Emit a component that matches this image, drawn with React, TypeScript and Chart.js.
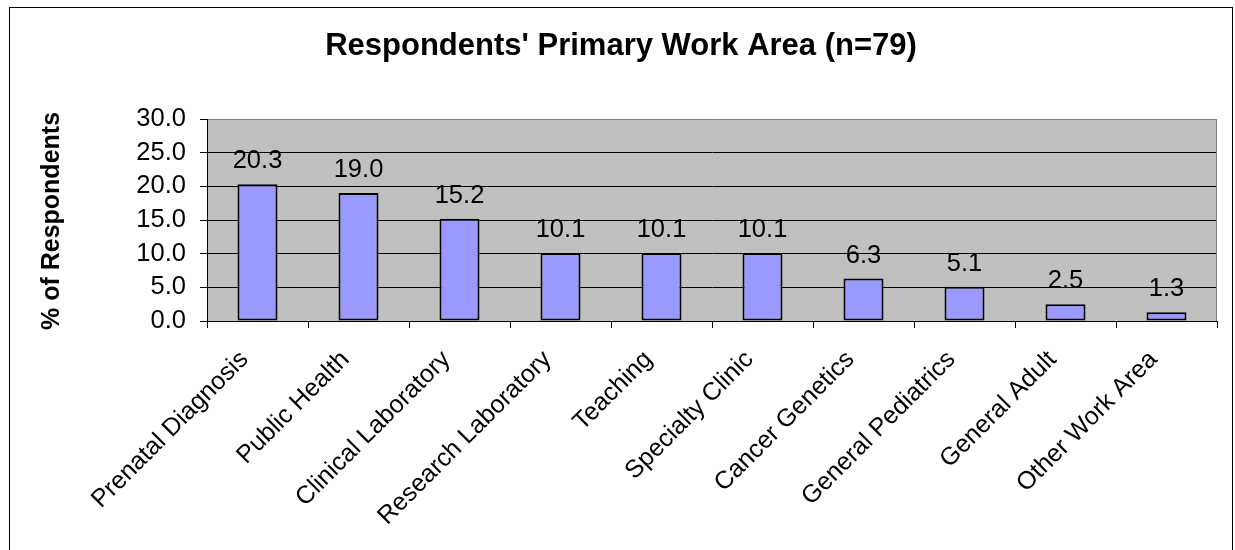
import React, { useEffect, useRef } from "react";
import { Chart, registerables } from "chart.js";

Chart.register(...registerables);

const categories = [
  "Prenatal Diagnosis",
  "Public Health",
  "Clinical Laboratory",
  "Research Laboratory",
  "Teaching",
  "Specialty Clinic",
  "Cancer Genetics",
  "General Pediatrics",
  "General Adult",
  "Other Work Area",
];
const percentages = [20.3, 19.0, 15.2, 10.1, 10.1, 10.1, 6.3, 5.1, 2.5, 1.3];
const yMin = 0;
const yMax = 30;
const yStep = 5;
const chartTitle = "Respondents' Primary Work Area (n=79)";
const yAxisTitle = "% of Respondents";

const FONT = "'Liberation Sans', Arial, Helvetica, sans-serif";
const CANVAS_W = 1222;
const CANVAS_H = 542;

const decorPlugin = {
  id: "decor",
  beforeDraw(chart: any) {
    const { ctx, chartArea } = chart;
    ctx.save();
    ctx.fillStyle = "#C0C0C0";
    ctx.fillRect(chartArea.left, chartArea.top, chartArea.right - chartArea.left, chartArea.bottom - chartArea.top);
    ctx.restore();
  },
  afterDatasetsDraw(chart: any) {
    const { ctx, chartArea } = chart;
    ctx.save();
    // right plot border (gray)
    ctx.strokeStyle = "#808080";
    ctx.lineWidth = 1;
    ctx.beginPath();
    ctx.moveTo(chartArea.right - 0.5, chartArea.top);
    ctx.lineTo(chartArea.right - 0.5, chartArea.bottom);
    ctx.stroke();
    // data labels
    const meta = chart.getDatasetMeta(0);
    const data = chart.data.datasets[0].data as number[];
    ctx.fillStyle = "#000";
    ctx.font = `25.5px ${FONT}`;
    ctx.textAlign = "center";
    ctx.textBaseline = "alphabetic";
    meta.data.forEach((bar: any, i: number) => {
      ctx.fillText(Number(data[i]).toFixed(1), bar.x, bar.y - 16);
    });
    ctx.restore();
  },
  afterDraw(chart: any) {
    const { ctx, chartArea } = chart;
    ctx.save();
    ctx.fillStyle = "#000";
    ctx.font = `bold 31px ${FONT}`;
    ctx.textAlign = "center";
    ctx.textBaseline = "alphabetic";
    ctx.fillText(chartTitle, chart.width / 2, 47);
    ctx.translate(42, (chartArea.top + chartArea.bottom) / 2 + 1);
    ctx.rotate(-Math.PI / 2);
    ctx.font = `bold 25px ${FONT}`;
    ctx.textBaseline = "middle";
    ctx.fillText(yAxisTitle, 0, 0);
    ctx.restore();
  },
};

export default function App() {
  const canvasRef = useRef<HTMLCanvasElement | null>(null);

  useEffect(() => {
    const canvas = canvasRef.current;
    if (!canvas) return;
    const chart = new Chart(canvas, {
      type: "bar",
      data: {
        labels: categories,
        datasets: [
          {
            data: percentages,
            backgroundColor: "#9999FF",
            borderColor: "#000000",
            borderWidth: 2,
            borderSkipped: false,
            barPercentage: 0.396,
            categoryPercentage: 1,
          },
        ],
      },
      options: {
        responsive: false,
        animation: false,
        devicePixelRatio: 1,
        layout: { padding: { top: 111, right: 15, left: 0, bottom: 0 } },
        plugins: {
          legend: { display: false },
          tooltip: { enabled: false },
          title: { display: false },
        },
        scales: {
          x: {
            offset: true,
            grid: {
              display: true,
              offset: true,
              drawOnChartArea: false,
              drawTicks: true,
              tickLength: 7,
              color: "#000000",
              lineWidth: 1,
            },
            border: { display: true, color: "#000000", width: 1 },
            ticks: {
              autoSkip: false,
              maxRotation: 45,
              minRotation: 45,
              padding: 17,
              labelOffset: -13,
              color: "#000000",
              font: { family: FONT, size: 25 },
            },
            afterFit(scale: any) {
              scale.height = 229;
            },
          },
          y: {
            min: yMin,
            max: yMax,
            grid: {
              color: (c: any) => (c.tick && c.tick.value === yMax ? "#808080" : "#000000"),
              tickColor: "#000000",
              tickLength: 7,
              lineWidth: 1,
            },
            border: { display: true, color: "#000000", width: 1 },
            ticks: {
              stepSize: yStep,
              padding: 14,
              color: "#000000",
              font: { family: FONT, size: 25.5 },
              callback: (v: any) => Number(v).toFixed(1),
            },
            afterFit(scale: any) {
              scale.width = 197;
            },
          },
        },
      },
      plugins: [decorPlugin],
    });
    return () => chart.destroy();
  }, []);

  return (
    <div
      style={{
        position: "absolute",
        left: 9,
        top: 7,
        width: CANVAS_W,
        height: CANVAS_H,
        border: "1px solid #000",
        borderBottom: "none",
        background: "#fff",
        overflow: "hidden",
      }}
    >
      <canvas ref={canvasRef} width={CANVAS_W} height={CANVAS_H} style={{ display: "block" }} />
    </div>
  );
}
